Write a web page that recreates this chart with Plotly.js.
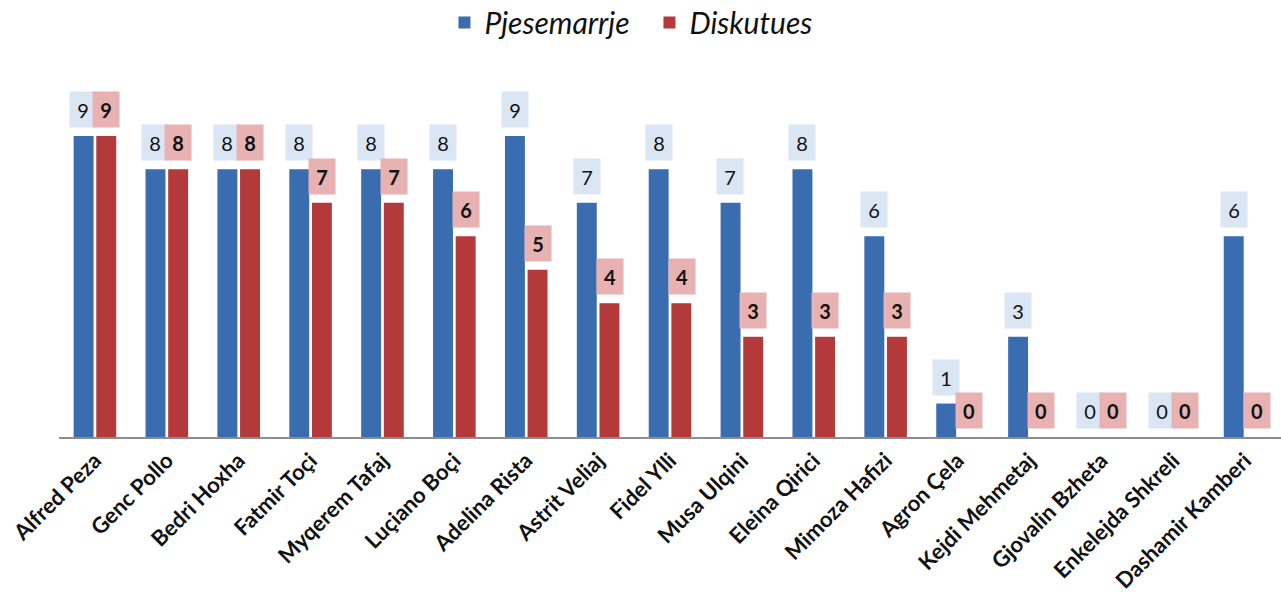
<!DOCTYPE html>
<html>
<head>
<meta charset="utf-8">
<script src="https://cdn.plot.ly/plotly-3.0.1.min.js"></script>
<style>html,body{margin:0;padding:0;background:#fff;}#chart{width:1281px;height:605px;}</style>
</head>
<body>
<div id="chart"></div>
<script>
const categories = ["Alfred Peza","Genc Pollo","Bedri Hoxha","Fatmir Toçi","Myqerem Tafaj","Luçiano Boçi","Adelina Rista","Astrit Veliaj","Fidel Ylli","Musa Ulqini","Eleina Qirici","Mimoza Hafizi","Agron Çela","Kejdi Mehmetaj","Gjovalin Bzheta","Enkelejda Shkreli","Dashamir Kamberi"];
const pjesemarrje = [9,8,8,8,8,8,9,7,8,7,8,6,1,3,0,0,6];
const diskutues   = [9,8,8,7,7,6,5,4,4,3,3,3,0,0,0,0,0];

const blue = "#3a6db0", red = "#b3393a";
const blueBox = "#dbe6f4", redBox = "#e8b2b2";
const txtFont = "Lato, 'Open Sans', sans-serif";

const traces = [
  {type:"bar", name:"Pjesemarrje", x:categories, y:pjesemarrje, marker:{color:blue}, hoverinfo:"none"},
  {type:"bar", name:"Diskutues", x:categories, y:diskutues, marker:{color:red}, hoverinfo:"none"}
];

const annotations = [];
categories.forEach((c,i)=>{
  annotations.push({x:c, y:pjesemarrje[i], xref:"x", yref:"y", xshift:-11.5, yshift:8,
    yanchor:"bottom", text:String(pjesemarrje[i]), showarrow:false, bgcolor:blueBox,
    width:22, height:31, borderpad:2, font:{family:txtFont, size:20, color:"#111"}});
  annotations.push({x:c, y:diskutues[i], xref:"x", yref:"y", xshift:11.5, yshift:8,
    yanchor:"bottom", text:"<b>"+diskutues[i]+"</b>", showarrow:false, bgcolor:redBox,
    width:22, height:31, borderpad:2, font:{family:txtFont, size:20, color:"#111"}});
});

const layout = {
  width:1281, height:605,
  margin:{l:59, r:0, t:70, b:168},
  paper_bgcolor:"#fff", plot_bgcolor:"#fff",
  barmode:"group", bargap:0.37, bargroupgap:0.12,
  showlegend:true,
  legend:{orientation:"h", xref:"container", yref:"container", x:0.507, xanchor:"center", y:0.963, yanchor:"middle",
    font:{family:txtFont, size:30, style:"italic", color:"#111"}, tracegroupgap:0, entrywidth:160, entrywidthmode:"pixels"},
  xaxis:{tickangle:-45, showline:true, linecolor:"#8c8c8c", linewidth:2, ticks:"",
    tickfont:{family:txtFont, size:22, weight:"bold", color:"#111"}, fixedrange:true, automargin:false},
  yaxis:{range:[0,10.97], visible:false, showgrid:false, zeroline:false, fixedrange:true},
  annotations:annotations
};

Plotly.newPlot("chart", traces, layout, {displayModeBar:false, staticPlot:true});
</script>
</body>
</html>
